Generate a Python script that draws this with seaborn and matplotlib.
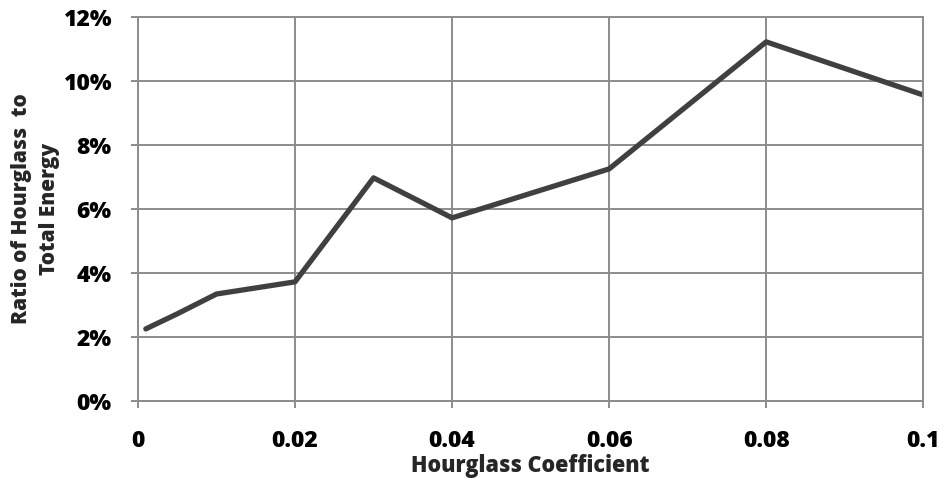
import numpy as np
import pandas as pd
import seaborn as sns
from matplotlib import pyplot as plt
from matplotlib.ticker import PercentFormatter, FuncFormatter

# values
coef = [0.001, 0.005, 0.01, 0.02, 0.03, 0.04, 0.06, 0.08, 0.1]
ratio = [2.25, 2.72, 3.34, 3.72, 6.97, 5.72, 7.25, 11.22, 9.56]
x_ticks = [0, 0.02, 0.04, 0.06, 0.08, 0.1]
y_ticks = [0, 2, 4, 6, 8, 10, 12]

df = pd.DataFrame({'coef': coef, 'ratio': ratio})

sns.set_theme(style='whitegrid')
plt.rcParams['font.family'] = ['Open Sans', 'DejaVu Sans']

fig, ax = plt.subplots(figsize=(9.45, 4.83), dpi=100)
fig.subplots_adjust(left=0.146, right=0.977, top=0.965, bottom=0.170)

sns.lineplot(data=df, x='coef', y='ratio', ax=ax, color='#404040', linewidth=3.8)

ax.set_xlim(0, 0.1)
ax.set_ylim(0, 12)
ax.set_xticks(x_ticks)
ax.set_yticks(y_ticks)
ax.xaxis.set_major_formatter(FuncFormatter(lambda v, p: ('%g' % round(v, 3))))
ax.yaxis.set_major_formatter(PercentFormatter(decimals=0))

ax.grid(True, color='#8c8c8c', linewidth=1.4)
for s in ax.spines.values():
    s.set_color('#8c8c8c')
    s.set_linewidth(1.4)

ax.tick_params(axis='both', labelsize=16.5, colors='#8c8c8c', labelcolor='black',
               length=5, width=1.4, direction='out', left=True, bottom=True)
ax.tick_params(axis='x', pad=15)
ax.tick_params(axis='y', pad=14)
for lab in ax.get_xticklabels() + ax.get_yticklabels():
    lab.set_fontweight('heavy')

ax.set_xlabel('Hourglass Coefficient', fontsize=15.5, fontweight='heavy', labelpad=1)
ax.set_ylabel('Ratio of Hourglass  to\nTotal Energy', fontsize=15, fontweight='heavy',
              labelpad=2, linespacing=1.45)

fig.savefig('out.png', dpi=100)
